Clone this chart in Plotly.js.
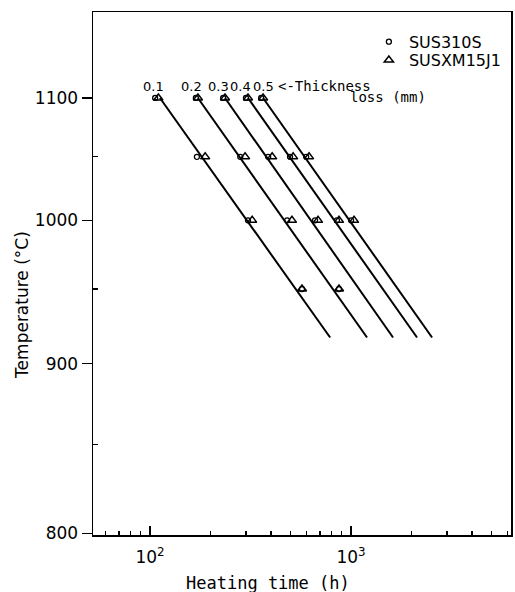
<!DOCTYPE html>
<html>
<head>
<meta charset="utf-8">
<script src="https://cdn.plot.ly/plotly-3.0.1.min.js"></script>
<style>html,body{margin:0;padding:0;background:#fff}#chart{width:515px;height:592px}</style>
</head>
<body>
<div id="chart"></div>
<script>
// ---- data ----
const thicknessLabels = ['0.1', '0.2', '0.3', '0.4', '0.5'];
const lineTemps = [1100, 917];                       // °C at the two ends of each fitted line
const lineStartHours = [112, 173, 236, 307, 365];    // h at 1100 °C
const lineEndHours = [787, 1201, 1618, 2130, 2530];  // h at 917 °C

const sus310sHours = [106, 169, 231, 300, 357, 171, 281, 387, 497, 598, 307, 481, 662, 851, 1000, 570, 871];
const sus310sTemps = [1100, 1100, 1100, 1100, 1100, 1050, 1050, 1050, 1050, 1050, 1000, 1000, 1000, 1000, 1000, 950, 950];
const xm15j1Hours = [110, 173, 236, 307, 365, 188, 297, 405, 515, 618, 322, 508, 685, 871, 1035, 570, 871];
const xm15j1Temps = [1100, 1100, 1100, 1100, 1100, 1050, 1050, 1050, 1050, 1050, 1000, 1000, 1000, 1000, 1000, 950, 950];

const yTickTemps = [800, 900, 1000, 1100];
const yMinorTemps = [850, 950, 1050];
const xTickVals = [100, 1000];
const xTickText = ['10<sup>2</sup>', '10<sup>3</sup>'];
const xMinorVals = [60, 70, 80, 90, 200, 300, 400, 500, 600, 700, 800, 900, 2000, 3000, 4000, 5000, 6000];

// reciprocal absolute temperature scale (Arrhenius plot)
const inv = T => -10000 / (T + 273.15);

const traces = [];
thicknessLabels.forEach((lab, i) => {
  traces.push({
    x: [lineStartHours[i], lineEndHours[i]],
    y: lineTemps.map(inv),
    mode: 'lines', type: 'scatter', showlegend: false, hoverinfo: 'skip',
    line: {color: '#000', width: 2}
  });
});
traces.push({
  name: 'SUS310S', x: sus310sHours, y: sus310sTemps.map(inv),
  mode: 'markers', type: 'scatter', legend: 'legend',
  marker: {symbol: 'circle-open', size: 5, color: '#000', line: {width: 1.3, color: '#000'}}
});
traces.push({
  name: 'SUSXM15J1', x: xm15j1Hours, y: xm15j1Temps.map(inv),
  mode: 'markers', type: 'scatter', legend: 'legend2',
  marker: {symbol: 'triangle-up-open', size: 8, color: '#000', line: {width: 1.5, color: '#000'}}
});

const labelShift = [-6, -6, -7, -7, 0];
const annotations = thicknessLabels.map((lab, i) => ({
  x: Math.log10(lineStartHours[i]), y: inv(1100), xref: 'x', yref: 'y',
  text: lab, showarrow: false, xanchor: 'center', yanchor: 'bottom',
  xshift: labelShift[i], yshift: 2,
  font: {family: 'DejaVu Sans', size: 13, color: '#000'}
}));
annotations.push({
  x: Math.log10(lineStartHours[4]), y: inv(1100), xref: 'x', yref: 'y',
  text: '&lt;-Thickness', showarrow: false, xanchor: 'left', yanchor: 'bottom',
  xshift: 13, yshift: 2,
  font: {family: 'DejaVu Sans Mono', size: 14, color: '#000'}
});
annotations.push({
  x: Math.log10(lineStartHours[4]), y: inv(1100), xref: 'x', yref: 'y',
  text: 'loss (mm)', showarrow: false, xanchor: 'left', yanchor: 'bottom',
  xshift: 85, yshift: -9,
  font: {family: 'DejaVu Sans Mono', size: 14, color: '#000'}
});
annotations.push({
  x: 0.419, y: 0, xref: 'paper', yref: 'paper', yanchor: 'top', yshift: -36,
  text: 'Heating time (h)', showarrow: false,
  font: {family: 'DejaVu Sans Mono', size: 17, color: '#000'}
});
annotations.push({
  x: 0, y: 0.44, xref: 'paper', yref: 'paper', xanchor: 'center', xshift: -71,
  text: 'Temperature (°C)', textangle: -90, showarrow: false,
  font: {family: 'DejaVu Sans', size: 17, color: '#000'}
});

const legendBase = {xanchor: 'left', yanchor: 'middle', bgcolor: 'rgba(0,0,0,0)',
  font: {family: 'DejaVu Sans', size: 16, color: '#000'}, itemwidth: 30};

const layout = {
  width: 515, height: 592,
  margin: {l: 93, r: 4, t: 12, b: 57},
  paper_bgcolor: '#fff', plot_bgcolor: '#fff',
  showlegend: true,
  legend: Object.assign({}, legendBase, {x: 0.66, y: 0.943}),
  legend2: Object.assign({}, legendBase, {x: 0.66, y: 0.908}),
  xaxis: {
    type: 'log', range: [Math.log10(52), Math.log10(6250)],
    showgrid: false, zeroline: false, showline: true, linecolor: '#000', linewidth: 1.5, mirror: true,
    tickmode: 'array', tickvals: xTickVals, ticktext: xTickText,
    ticks: 'inside', ticklen: 9, tickwidth: 1.5, tickcolor: '#000', ticklabelstandoff: 6,
    tickfont: {family: 'DejaVu Sans', size: 17, color: '#000'},
    minor: {tickmode: 'array', tickvals: xMinorVals, ticks: 'inside', ticklen: 4, tickwidth: 1.2, tickcolor: '#000', showgrid: false}
  },
  yaxis: {
    range: [inv(799.2), inv(1180.2)],
    showgrid: false, zeroline: false, showline: true, linecolor: '#000', linewidth: 1.5, mirror: true,
    tickmode: 'array', tickvals: yTickTemps.map(inv), ticktext: yTickTemps.map(String),
    ticks: 'outside', ticklen: 10, tickwidth: 1.5, tickcolor: '#000',
    tickfont: {family: 'DejaVu Sans', size: 17, color: '#000'},
    minor: {tickmode: 'array', tickvals: yMinorTemps.map(inv), ticks: 'inside', ticklen: 5, tickwidth: 1.2, tickcolor: '#000', showgrid: false}
  },
  annotations: annotations
};

Plotly.newPlot('chart', traces, layout, {displayModeBar: false, staticPlot: true});
</script>
</body>
</html>
